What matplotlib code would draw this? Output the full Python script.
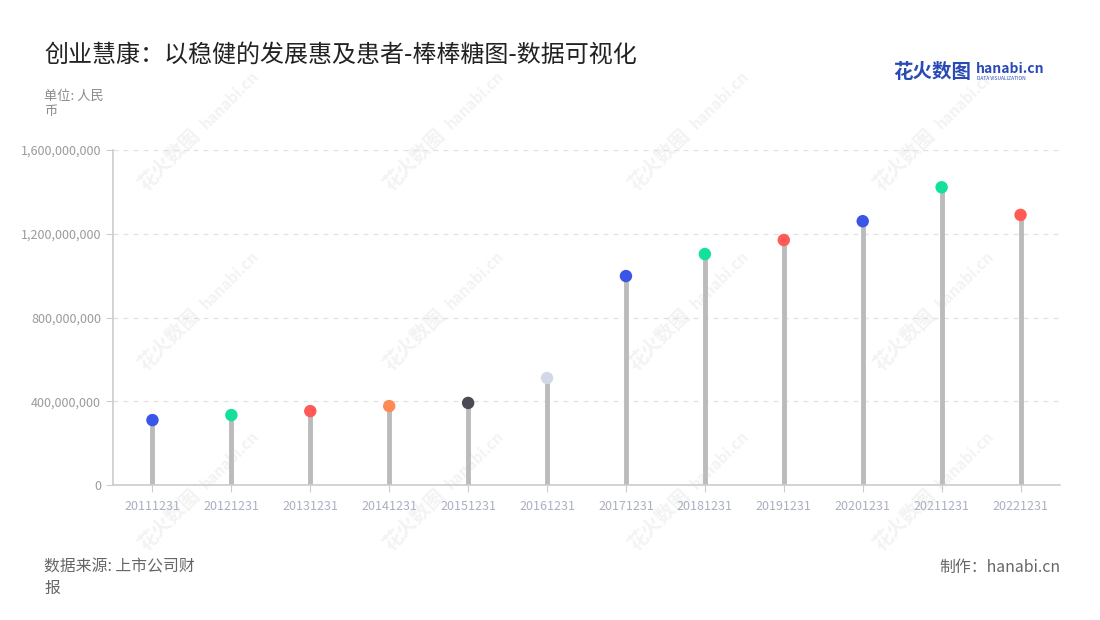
import matplotlib
matplotlib.use("Agg")
import matplotlib.pyplot as plt
from matplotlib.ticker import FuncFormatter

plt.rcParams['font.family'] = ['Noto Sans CJK SC', 'DejaVu Sans']

dates = ['20111231', '20121231', '20131231', '20141231', '20151231', '20161231',
         '20171231', '20181231', '20191231', '20201231', '20211231', '20221231']
values = [310e6, 334e6, 353e6, 377e6, 392e6, 511e6,
          998e6, 1103e6, 1170e6, 1260e6, 1422e6, 1290e6]
colors = ['#3a56e8', '#12e09c', '#ff5a55', '#ff8a55', '#4b4b55', '#d3d8e6',
          '#3a56e8', '#12e09c', '#ff5a55', '#3a56e8', '#12e09c', '#ff5a55']

fig = plt.figure(figsize=(11, 6.2), dpi=100)
ax = fig.add_axes([113/1100, 135/620, 947/1100, 335/620])
ax.patch.set_alpha(0)

x = list(range(len(dates)))
ax.vlines(x, 0, values, color='#bbbbbb', linewidth=3.5, zorder=2)
ax.scatter(x, values, s=80, c=colors, zorder=3, edgecolors='none')

ax.set_xlim(-0.5, len(dates) - 0.5)
ax.set_ylim(0, 1.6e9)
ax.set_yticks([0, 4e8, 8e8, 12e8, 16e8])
ax.yaxis.set_major_formatter(FuncFormatter(lambda v, p: f'{int(v):,}'))
ax.set_xticks(x)
ax.set_xticklabels(dates)
ax.grid(axis='y', color='#e0e0e0', linestyle=(0, (4, 4)), linewidth=0.9, zorder=0)

for s in ['top', 'right']:
    ax.spines[s].set_visible(False)
for s in ['left', 'bottom']:
    ax.spines[s].set_color('#cccccc')
    ax.spines[s].set_linewidth(1.2)
ax.tick_params(axis='y', colors='#cccccc', labelcolor='#9a9a9a', labelsize=9, length=5)
ax.tick_params(axis='x', colors='#cccccc', labelcolor='#aab0c0', labelsize=9, length=5, pad=6)

# faint watermarks behind the chart
for wx in [170, 415, 660, 905]:
    for wy in [160, 340, 520]:
        fig.text(wx/1100, 1 - wy/620, '花火数图', fontsize=14, color='#f3f3f3',
                 rotation=45, ha='center', va='center', fontweight='bold', zorder=-1)
        fig.text((wx + 60)/1100, 1 - (wy - 60)/620, 'hanabi.cn', fontsize=11, color='#f3f3f3',
                 rotation=45, ha='center', va='center', fontweight='bold', zorder=-1)

fig.text(44/1100, 1 - 55/620, '创业慧康：以稳健的发展惠及患者-棒棒糖图-数据可视化',
         fontsize=17.3, color='#222222', va='center')
fig.text(44/1100, 1 - 104/620, '单位: 人民\n币', fontsize=9.5, color='#8a8a8a',
         va='center', linespacing=1.3)
fig.text(44/1100, 1 - 578/620, '数据来源: 上市公司财\n报', fontsize=11.4, color='#666666',
         va='center', linespacing=1.35)
fig.text(1060/1100, 1 - 567/620, '制作：hanabi.cn', fontsize=11.4, color='#666666',
         va='center', ha='right')

# logo
fig.text(893/1100, 1 - 72/620, '花火数图', fontsize=14, color='#2a4bb5',
         fontweight='bold', va='center')
fig.text(976/1100, 1 - 69/620, 'hanabi.cn', fontsize=10, color='#2a4bb5',
         fontweight='bold', va='center')
fig.text(977/1100, 1 - 79/620, 'DATA VISUALIZATION', fontsize=3.5, color='#2a4bb5',
         va='center')

fig.savefig('out.png', dpi=100)
